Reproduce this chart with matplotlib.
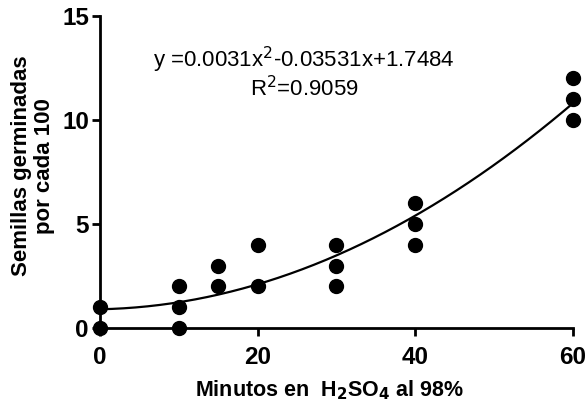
import numpy as np
import matplotlib
matplotlib.use("Agg")
import matplotlib.pyplot as plt

plt.rcParams['font.family'] = ['Liberation Sans', 'DejaVu Sans']

# minutos en H2SO4 y semillas germinadas por cada 100
minutos = [0, 0, 10, 10, 10, 15, 15, 20, 20, 30, 30, 30, 40, 40, 40, 60, 60, 60]
semillas = [0, 1, 0, 1, 2, 2, 3, 2, 4, 2, 3, 4, 4, 5, 6, 10, 11, 12]

x_ticks = [0, 20, 40, 60]
y_ticks = [0, 5, 10, 15]

ecuacion = "y =0.0031x$^2$-0.03531x+1.7484"
r2 = "R$^2$=0.9059"

# ajuste cuadratico a partir de los puntos
coef = np.polyfit(minutos, semillas, 2)
xs = np.linspace(0, 60, 200)
ys = np.polyval(coef, xs)

fig = plt.figure(figsize=(5.85, 4.01), dpi=100)
ax = fig.add_axes([0.171, 0.182, 0.808, 0.778])

ax.plot(xs, ys, color='black', lw=1.6, clip_on=False)
ax.plot(minutos, semillas, 'o', color='black', ms=10, clip_on=False, zorder=5)

ax.set_xlim(0, 60)
ax.set_ylim(0, 15)
ax.set_xticks(x_ticks)
ax.set_yticks(y_ticks)
for s in ['top', 'right']:
  ax.spines[s].set_visible(False)
for s in ['left', 'bottom']:
  ax.spines[s].set_linewidth(2)
ax.tick_params(width=2, length=6, labelsize=17.5)
ax.tick_params(axis='x', pad=7)
ax.tick_params(axis='y', pad=2)
for lbl in ax.get_xticklabels() + ax.get_yticklabels():
  lbl.set_fontweight('bold')

ax.set_xlabel("Minutos en  H$_\\mathbf{2}$SO$_\\mathbf{4}$ al 98%", fontsize=15.5, fontweight='bold')
ax.set_ylabel("Semillas germinadas\npor cada 100", fontsize=16, fontweight='bold', linespacing=1.15)
ax.xaxis.set_label_coords(0.486, -0.163)
ax.yaxis.set_label_coords(-0.095, 0.52)

ax.text(0.431, 0.859, ecuacion, transform=ax.transAxes, ha='center', va='center', fontsize=16)
ax.text(0.431, 0.769, r2, transform=ax.transAxes, ha='center', va='center', fontsize=16)

fig.savefig("out.png", dpi=100)
